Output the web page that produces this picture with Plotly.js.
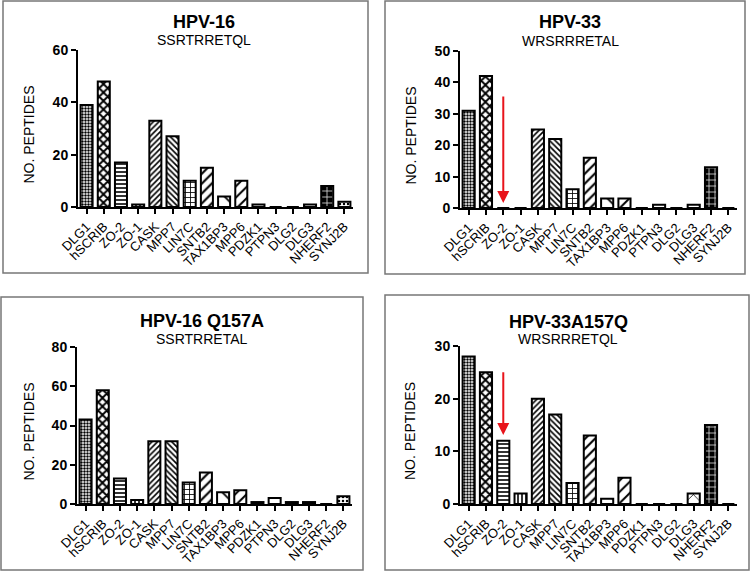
<!DOCTYPE html>
<html><head><meta charset="utf-8">
<script src="https://cdn.plot.ly/plotly-3.0.1.min.js"></script>
<style>html,body{margin:0;padding:0;background:#fff}#chart{width:750px;height:571px}</style>
</head><body><div id="chart"></div>
<script>
// ---- data ----
const categories = ["DLG1","hSCRIB","ZO-2","ZO-1","CASK","MPP7","LIN7C","SNTB2","TAX1BP3","MPP6","PDZK1","PTPN3","DLG2","DLG3","NHERF2","SYNJ2B"];
const hpv16 = [39,48,17,1,33,27,10,15,4,10,1,0,0,1,8,2];
const hpv33 = [31,42,0,0,25,22,6,16,3,3,0,1,0,1,13,0];
const hpv16Q157A = [43,58,13,2,32,32,11,16,6,7,1,3,1,1,0,4];
const hpv33A157Q = [28,25,12,2,20,17,4,13,1,5,0,0,0,2,15,0];
const panelTitles = ["HPV-16","HPV-33","HPV-16 Q157A","HPV-33A157Q"];
const panelSubtitles = ["SSRTRRETQL","WRSRRRETAL","SSRTRRETAL","WRSRRRETQL"];
const yMax = [60,50,80,30];
const yDtick = [20,10,20,10];
const yAxisTitle = "NO. PEPTIDES";

// ---- styles ----
const patShape = [".","x","-","|","/","\\","+","/","\\","/","","","","x","+","."];
const patSize  = [3,6,4,4,4,4,5,7,12,8,8,8,8,10,6,4];
const patSolid = [0.5,0.55,0.4,0.4,0.4,0.4,0.3,0.3,0.15,0.25,0.3,0.3,0.3,0.15,0.25,0.3];
const patFg = categories.map((c,i)=> i===14 ? "#ddd" : "black");
const patBg = categories.map((c,i)=> i===14 ? "black" : "white");

const W=750,H=571;
const px=x=>x/W, py=y=>1-y/H;

// panel geometry in pixels: [axisLeft, axisRight, yTopPx, yZeroPx]
const geo = [
  [78,353,50,207],
  [460,737,51,208],
  [77,352,347,504],
  [460,737,346,504]
];
const titlePos = [[204,22,40],[570,22,41],[202,321,339],[568,322,339]];
const yTitleX = [28,410,28,410];
const boxes = [[3,1,368,273],[385,1,745,274],[1,297,363,570],[385,295,749,570]];
const series = [hpv16,hpv33,hpv16Q157A,hpv33A157Q];

const font = "Liberation Sans, Arial, Helvetica, sans-serif";
const traces=[], layout={
  width:W,height:H,margin:{l:0,r:0,t:0,b:0},showlegend:false,
  paper_bgcolor:"white",plot_bgcolor:"white",bargap:0.3,
  annotations:[],shapes:[],font:{family:font,color:"black"}
};

series.forEach((vals,k)=>{
  const n=k===0?"":(k+1);
  traces.push({
    type:"bar",x:categories,y:vals,xaxis:"x"+n,yaxis:"y"+n,
    marker:{color:"white",line:{color:"black",width:2},
      pattern:{shape:patShape,size:patSize,solidity:patSolid,fgcolor:patFg,bgcolor:patBg,fillmode:"replace"}},
    hoverinfo:"x+y"
  });
  const g=geo[k];
  layout["xaxis"+n]={domain:[px(g[0]),px(g[1])],anchor:"y"+n,type:"category",range:[-0.5,15.5],
    showline:true,linecolor:"black",linewidth:2,ticks:"outside",ticklen:5,tickwidth:2,tickcolor:"black",
    tickangle:-45,tickfont:{family:font,size:13,color:"black"},showgrid:false,zeroline:false,fixedrange:true};
  layout["yaxis"+n]={domain:[py(g[3]),py(g[2])],anchor:"x"+n,range:[0,yMax[k]],dtick:yDtick[k],
    showline:true,linecolor:"black",linewidth:2,ticks:"outside",ticklen:5,tickwidth:2,tickcolor:"black",
    tickfont:{family:font,size:14,color:"black",weight:"bold"},showgrid:false,zeroline:false,fixedrange:true};
  const t=titlePos[k];
  layout.annotations.push({text:"<b>"+panelTitles[k]+"</b>",xref:"paper",yref:"paper",x:px(t[0]),y:py(t[1]),
    xanchor:"center",yanchor:"middle",showarrow:false,font:{family:font,size:18,color:"black"}});
  layout.annotations.push({text:panelSubtitles[k],xref:"paper",yref:"paper",x:px(t[0]),y:py(t[2]),
    xanchor:"center",yanchor:"middle",showarrow:false,font:{family:font,size:14,color:"black"}});
  layout.annotations.push({text:yAxisTitle,xref:"paper",yref:"paper",x:px(yTitleX[k]),y:py((g[2]+g[3])/2+6),
    xanchor:"center",yanchor:"middle",textangle:-90,showarrow:false,font:{family:font,size:14,color:"black"}});
  const b=boxes[k];
  layout.shapes.push({type:"rect",xref:"paper",yref:"paper",x0:px(b[0]),x1:px(b[2]),y0:py(b[1]),y1:py(b[3]),
    line:{color:"#777",width:1.5}});
});

// red arrows pointing at ZO-2
layout.annotations.push({x:2,y:1.6,xref:"x2",yref:"y2",ax:2,ay:36,axref:"x2",ayref:"y2",text:"",
  showarrow:true,arrowcolor:"#e8141b",arrowwidth:2,arrowhead:2,arrowsize:1.2});
layout.annotations.push({x:2,y:13.1,xref:"x4",yref:"y4",ax:2,ay:25.3,axref:"x4",ayref:"y4",text:"",
  showarrow:true,arrowcolor:"#e8141b",arrowwidth:2,arrowhead:2,arrowsize:1.2});

Plotly.newPlot("chart",traces,layout,{displayModeBar:false,staticPlot:true});
</script></body></html>
